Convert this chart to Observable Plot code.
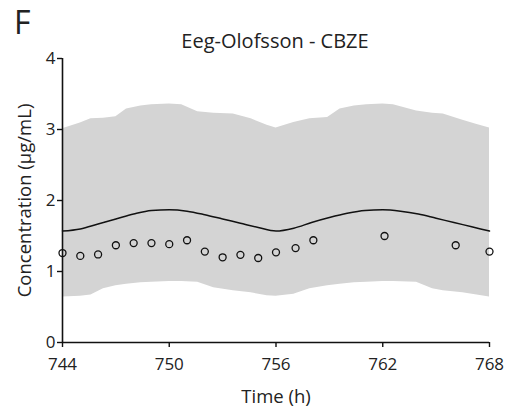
<!DOCTYPE html>
<html>
<head>
<meta charset="utf-8">
<script src="https://cdn.jsdelivr.net/npm/d3@7"></script>
<script src="https://cdn.jsdelivr.net/npm/@observablehq/plot@0.6"></script>
<style>
  body { margin: 0; background: #fff; font-family: "Open Sans", sans-serif; color: #222; }
  #wrap { position: relative; width: 513px; }
  #head { position: relative; height: 50px; }
  #letter { position: absolute; left: 14px; top: 6px; font-size: 32px; line-height: 32px; }
  #title { position: absolute; left: 275px; top: 31px; transform: translateX(-50%); font-size: 20px; line-height: 20px; white-space: nowrap; }
  svg { display: block; }
</style>
</head>
<body>
<div id="wrap">
  <div id="head"><div id="letter">F</div><div id="title">Eeg-Olofsson - CBZE</div></div>
  <div id="chart"></div>
</div>
<script>
// Observed concentrations (open circles)
const obsTime = [744, 745, 746, 747, 748, 749, 750, 751, 752, 753, 754, 755, 756, 757.1, 758.1, 762.1, 766.1, 768];
const obsConc = [1.26, 1.22, 1.24, 1.37, 1.40, 1.40, 1.385, 1.44, 1.28, 1.20, 1.235, 1.19, 1.27, 1.33, 1.44, 1.50, 1.37, 1.28];

// Predicted mean (solid line)
const predTime = [744, 745, 746, 747, 748, 749, 750, 751, 752, 753, 754, 755, 756, 757, 758, 759, 760, 761, 762, 763, 764, 765, 766, 767, 768];
const predConc = [1.57, 1.60, 1.67, 1.74, 1.81, 1.86, 1.87, 1.85, 1.80, 1.74, 1.68, 1.62, 1.57, 1.61, 1.69, 1.76, 1.82, 1.86, 1.87, 1.85, 1.81, 1.75, 1.69, 1.63, 1.57];

// Prediction interval (grey band)
const bandTime  = [744, 745, 745.6, 746.3, 747, 747.6, 748.4, 749, 750, 750.7, 751.6, 752.5, 753.6, 754.6, 755.5, 756, 757, 757.9, 758.9, 759.6, 760.4, 761.1, 762, 762.6, 763.9, 764.8, 765.4, 766.5, 767.3, 768];
const bandUpper = [3.01, 3.09, 3.15, 3.16, 3.18, 3.29, 3.33, 3.35, 3.36, 3.35, 3.25, 3.23, 3.22, 3.15, 3.06, 3.02, 3.10, 3.15, 3.17, 3.29, 3.33, 3.35, 3.36, 3.35, 3.26, 3.23, 3.22, 3.13, 3.07, 3.02];
const bandLower = [0.64, 0.65, 0.67, 0.756, 0.80, 0.82, 0.84, 0.85, 0.86, 0.86, 0.85, 0.77, 0.73, 0.70, 0.66, 0.65, 0.68, 0.756, 0.80, 0.82, 0.84, 0.85, 0.86, 0.86, 0.85, 0.756, 0.73, 0.70, 0.67, 0.64];

const xTicks = [744, 750, 756, 762, 768];
const yTicks = [0, 1, 2, 3, 4];

const obs = obsTime.map((t, i) => ({t, c: obsConc[i]}));
const pred = predTime.map((t, i) => ({t, c: predConc[i]}));
const band = bandTime.map((t, i) => ({t, hi: bandUpper[i], lo: bandLower[i]}));

const chart = Plot.plot({
  width: 513,
  height: 362,
  marginTop: 8,
  marginBottom: 70,
  marginLeft: 62,
  marginRight: 24,
  style: {fontFamily: "Open Sans", fontSize: "17px", color: "#222", background: "white", overflow: "visible"},
  x: {domain: [744, 768]},
  y: {domain: [0, 4]},
  marks: [
    Plot.areaY(band, {x: "t", y1: "lo", y2: "hi", fill: "#d4d4d4"}),
    Plot.line(pred, {x: "t", y: "c", stroke: "#111", strokeWidth: 1.5, curve: "monotone-x"}),
    Plot.dot(obs, {x: "t", y: "c", r: 3.5, stroke: "#111", strokeWidth: 1.3, fill: "none"}),
    Plot.ruleX([744], {stroke: "#111", strokeWidth: 1.6}),
    Plot.ruleY([0], {stroke: "#111", strokeWidth: 1.6}),
    Plot.axisX({ticks: xTicks, tickFormat: d => String(d), tickSize: 5, tickPadding: 10, label: null, fontSize: 17, stroke: "#111", strokeWidth: 1.4}),
    Plot.axisY({ticks: yTicks, tickFormat: d => String(d), tickSize: 5, tickPadding: 2, label: null, fontSize: 17, stroke: "#111", strokeWidth: 1.4}),
    Plot.text(["Time (h)"], {frameAnchor: "bottom", dy: 55, lineAnchor: "middle", textAnchor: "middle", fontSize: 18.5, fill: "#222"}),
    Plot.text(["Concentration (µg/mL)"], {frameAnchor: "left", dx: -37, rotate: -90, lineAnchor: "middle", textAnchor: "middle", fontSize: 18.5, fill: "#222"})
  ]
});
document.getElementById("chart").appendChild(chart);
</script>
</body>
</html>
